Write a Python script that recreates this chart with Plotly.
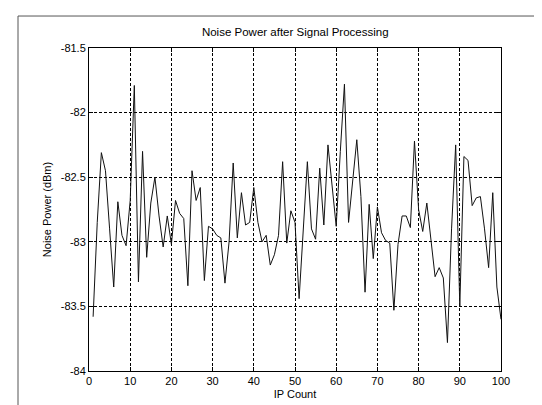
import plotly.graph_objects as go

ip_count = list(range(1, 101))
noise_power = [
    -83.58, -82.85, -82.31, -82.45, -82.90, -83.35, -82.69, -82.95, -83.03, -82.68,
    -81.79, -83.31, -82.30, -83.12, -82.70, -82.50, -82.80, -83.04, -82.80, -83.02,
    -82.68, -82.78, -82.82, -83.34, -82.45, -82.68, -82.58, -83.30, -82.88, -82.90,
    -82.95, -82.97, -83.32, -83.00, -82.39, -82.97, -82.62, -82.87, -82.85, -82.58,
    -82.85, -83.00, -82.95, -83.18, -83.10, -82.95, -82.38, -83.01, -82.76, -82.85,
    -83.44, -82.95, -82.38, -82.90, -82.98, -82.43, -82.87, -82.25, -82.55, -82.88,
    -82.30, -81.78, -82.85, -82.55, -82.21, -82.65, -83.39, -82.71, -83.13, -82.73,
    -82.93, -82.99, -83.01, -83.53, -83.02, -82.80, -82.80, -82.89, -82.22, -82.75,
    -82.92, -82.70, -83.00, -83.27, -83.20, -83.28, -83.78, -82.90, -82.25, -83.50,
    -82.34, -82.37, -82.72, -82.66, -82.65, -82.90, -83.20, -82.62, -83.35, -83.60,
]
x_ticks = [0, 10, 20, 30, 40, 50, 60, 70, 80, 90, 100]
y_ticks = [-84, -83.5, -83, -82.5, -82, -81.5]
y_tick_labels = ["-84", "-83.5", "-83", "-82.5", "-82", "-81.5"]

fig = go.Figure()
fig.add_trace(go.Scatter(x=ip_count, y=noise_power, mode="lines",
                         line=dict(color="#111111", width=1), showlegend=False))

font = dict(family="Liberation Sans, Arial, sans-serif", size=11, color="black")
axis_common = dict(showline=True, linecolor="black", linewidth=1, mirror="ticks",
                   ticks="inside", ticklen=4, tickcolor="black",
                   showgrid=True, gridcolor="black", gridwidth=1, griddash="3px,2px",
                   zeroline=False, tickfont=font)

fig.update_layout(
    width=542, height=405,
    margin=dict(l=81, r=49, t=40, b=42),
    paper_bgcolor="white", plot_bgcolor="white",
    font=font,
    title=dict(text="Noise Power after Signal Processing", x=0.53, xanchor="center",
               y=1 - 24 / 405, yanchor="middle", font=dict(size=11.5, family=font["family"])),
    xaxis=dict(range=[0, 100], tickvals=x_ticks, ticktext=[str(v) for v in x_ticks],
               title=dict(text="IP Count", standoff=4, font=font), **axis_common),
    yaxis=dict(range=[-84, -81.5], tickvals=y_ticks, ticktext=y_tick_labels,
               title=dict(text="Noise Power (dBm)", standoff=6, font=font), **axis_common),
    shapes=[
        dict(type="line", xref="paper", yref="paper", x0=-0.1723, x1=1.2, y0=1.099, y1=1.099,
             line=dict(color="#555555", width=1)),
        dict(type="line", xref="paper", yref="paper", x0=-0.1723, x1=-0.1723, y0=1.099, y1=-0.2,
             line=dict(color="#555555", width=1)),
    ],
)

fig.write_html("out.html")
